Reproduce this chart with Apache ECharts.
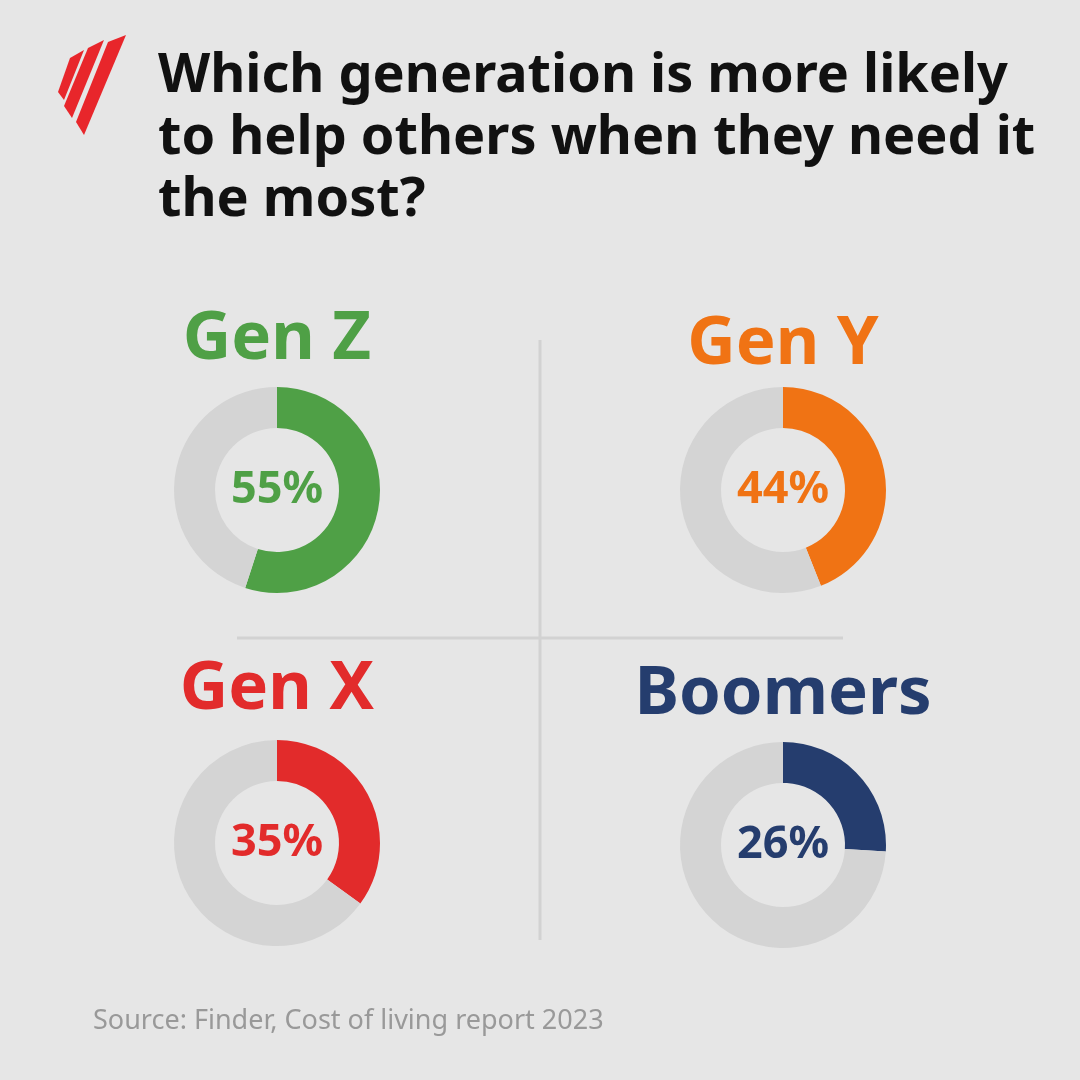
<!DOCTYPE html>
<html>
<head>
<meta charset="utf-8">
<script src="https://cdn.jsdelivr.net/npm/echarts@6/dist/echarts.min.js"></script>
<style>html,body{margin:0;padding:0;background:#e6e6e6}#main{width:1080px;height:1080px}</style>
</head>
<body>
<div id="main"></div>
<script>
// chart data
const generations = ['Gen Z', 'Gen Y', 'Gen X', 'Boomers'];
const shares = [55, 44, 35, 26];
const colors = ['#4fa046', '#f07314', '#e22b2b', '#253d6e'];
const centers = [[277, 490], [783, 490], [277, 843], [783, 845]];
const labelY = [340, 345, 690, 695];

const chart = echarts.init(document.getElementById('main'));
const font = '"Noto Sans", "Open Sans", sans-serif';

let series = generations.map((g, i) => ({
    type: 'pie',
    center: centers[i],
    radius: [62, 103],
    startAngle: 90,
    clockwise: true,
    silent: true,
    label: {
        show: true, position: 'center',
        formatter: () => shares[i] + '%',
        fontSize: 45, fontWeight: 'bold', color: colors[i], fontFamily: font
    },
    labelLine: { show: false },
    emphasis: { disabled: true },
    data: [
        { value: shares[i], itemStyle: { color: colors[i] } },
        { value: 100 - shares[i], itemStyle: { color: '#d4d4d4' }, label: { show: false } }
    ]
}));

let graphic = [
    // logo
    { type: 'polygon', shape: { points: [[70, 58], [84, 50], [64, 100], [58, 92]] }, style: { fill: '#e8262b' } },
    { type: 'polygon', shape: { points: [[88, 48], [104, 40], [72, 118], [64, 106]] }, style: { fill: '#e8262b' } },
    { type: 'polygon', shape: { points: [[108, 42], [126, 35], [84, 135], [76, 122]] }, style: { fill: '#e8262b' } },
    // title
    { type: 'text', left: 158, top: 46, style: {
        text: 'Which generation is more likely\nto help others when they need it\nthe most?',
        font: 'bold 54px ' + font, fill: '#111', lineHeight: 62 } },
    // dividers
    { type: 'line', shape: { x1: 540, y1: 340, x2: 540, y2: 940 }, style: { stroke: '#d2d2d2', lineWidth: 3 } },
    { type: 'line', shape: { x1: 237, y1: 638, x2: 843, y2: 638 }, style: { stroke: '#d2d2d2', lineWidth: 3 } },
    { type: 'text', left: 93, top: 1008, style: {
        text: 'Source: Finder, Cost of living report 2023', font: '27px ' + font, fill: '#999' } }
];
generations.forEach((g, i) => {
    graphic.push({ type: 'text', x: centers[i][0], y: labelY[i], style: {
        text: g, font: 'bold 67px ' + font, fill: colors[i], align: 'center', verticalAlign: 'middle' } });
});

chart.setOption({
    backgroundColor: '#e6e6e6',
    animation: false,
    series: series,
    graphic: graphic
});
</script>
</body>
</html>
